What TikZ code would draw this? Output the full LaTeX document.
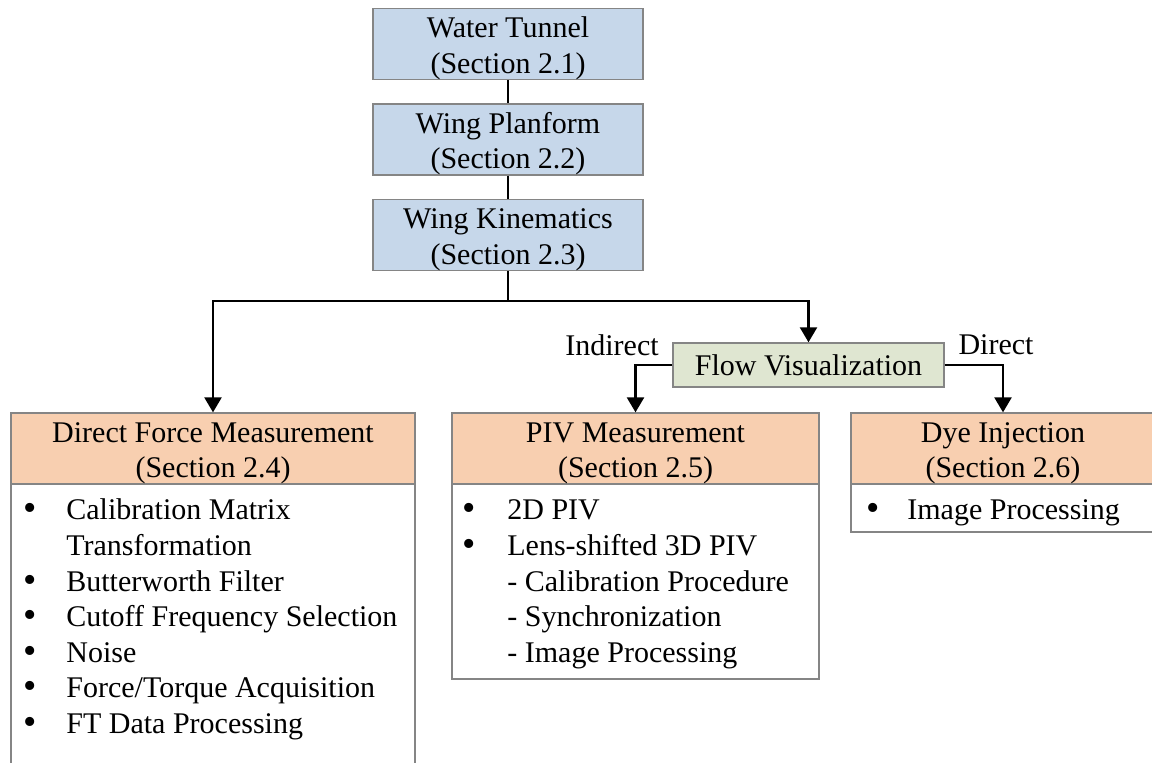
\documentclass[tikz,border=0pt]{standalone}
\usepackage{fontspec}
\setmainfont{Liberation Serif}
\usetikzlibrary{arrows.meta}
\definecolor{bluebox}{HTML}{C6D7EA}
\definecolor{orangebox}{HTML}{F8CFB0}
\definecolor{greenbox}{HTML}{DFE6D1}
\definecolor{bordergray}{HTML}{858585}
\newcommand\tstrut{\rule{0pt}{14.5pt}}
\begin{document}
\begin{tikzpicture}[x=0.5pt,y=-0.5pt,
  every node/.style={font=\fontsize{15}{17.75}\selectfont},
  boxbase/.style={draw=bordergray, line width=0.7pt, inner sep=0pt, align=center},
  topbox/.style={boxbase, fill=bluebox, minimum width=135pt, minimum height=34pt},
  headbox/.style={boxbase, fill=orangebox, minimum height=33.5pt},
  flowbox/.style={boxbase, fill=greenbox, minimum width=135.5pt, minimum height=22pt},
  bodybox/.style={draw=bordergray, line width=0.7pt, fill=white, inner sep=0pt},
  item/.style={anchor=base west, inner sep=0pt},
  bul/.style={anchor=base, inner sep=0pt, text height=5pt, text depth=0pt, font=\fontsize{19}{19}\selectfont},
  conn/.style={line width=1.2pt, black},
  arr/.style={conn, -{Triangle[width=8.5pt,length=7.5pt]}},
  lbl/.style={inner sep=0pt}
]
\useasboundingbox (0,0) rectangle (1152,763);
\clip (0,0) rectangle (1152,763);

% top chain
\node[topbox] (wt) at (508,44) {\tstrut Water Tunnel\\(Section 2.1)};
\node[topbox] (wp) at (508,139.5) {\tstrut Wing Planform\\(Section 2.2)};
\node[topbox] (wk) at (508,235) {\tstrut Wing Kinematics\\(Section 2.3)};

% flow visualization
\node[flowbox] (fv) at (808.5,365) {Flow Visualization};

% bodies
\node[bodybox, minimum width=202pt, minimum height=160pt] (dfmbody) at (213,642) {};
\node[bodybox, minimum width=183.5pt, minimum height=98.5pt] (pivbody) at (635.5,580.5) {};
\node[bodybox, minimum width=152pt, minimum height=25pt] (dyebody) at (1003,507) {};

% headers
\node[headbox, minimum width=202pt] (dfm) at (213,448.5) {\tstrut Direct Force Measurement\\(Section 2.4)};
\node[headbox, minimum width=183.5pt] (piv) at (635.5,448.5) {\tstrut PIV Measurement\\(Section 2.5)};
\node[headbox, minimum width=152pt] (dye) at (1003,448.5) {\tstrut Dye Injection\\(Section 2.6)};

% connectors
\coordinate (split) at (508,301);
\draw[conn] (wt.south) -- (wp.north);
\draw[conn] (wp.south) -- (wk.north);
\draw[conn] (wk.south) -- (split);
\draw[arr] (split) -| (dfm.north);
\draw[arr] (split) -| (fv.north);
\draw[arr] (fv.west) -| (piv.north);
\draw[arr] (fv.east) -| (dye.north);

% labels
\node[lbl] (lind) at (612,345) {Indirect};
\node[lbl] (ldir) at (996,345) {Direct};

% DFM list
\node[bul] (db1) at (30,521) {•};
\node[item] (d1) at (66,520) {Calibration Matrix};
\node[item] (d1b) at (66,556) {Transformation};
\node[bul] (db2) at (30,593) {•};
\node[item] (d2) at (66,592) {Butterworth Filter};
\node[bul] (db3) at (30,628) {•};
\node[item] (d3) at (66,627) {Cutoff Frequency Selection};
\node[bul] (db4) at (30,664) {•};
\node[item] (d4) at (66,663) {Noise};
\node[bul] (db5) at (30,699) {•};
\node[item] (d5) at (66,698) {Force/Torque Acquisition};
\node[bul] (db6) at (30,735) {•};
\node[item] (d6) at (66,734) {FT Data Processing};

% PIV list
\node[bul] (pb1) at (469,521) {•};
\node[item] (p1) at (507,520) {2D PIV};
\node[bul] (pb2) at (469,557) {•};
\node[item] (p2) at (507,556) {Lens-shifted 3D PIV};
\node[item] (p3) at (507,592) {- Calibration Procedure};
\node[item] (p4) at (507,627) {- Synchronization};
\node[item] (p5) at (507,663) {- Image Processing};

% Dye list
\node[bul] (yb1) at (873,521) {•};
\node[item] (y1) at (907,520) {Image Processing};
\end{tikzpicture}
\end{document}
